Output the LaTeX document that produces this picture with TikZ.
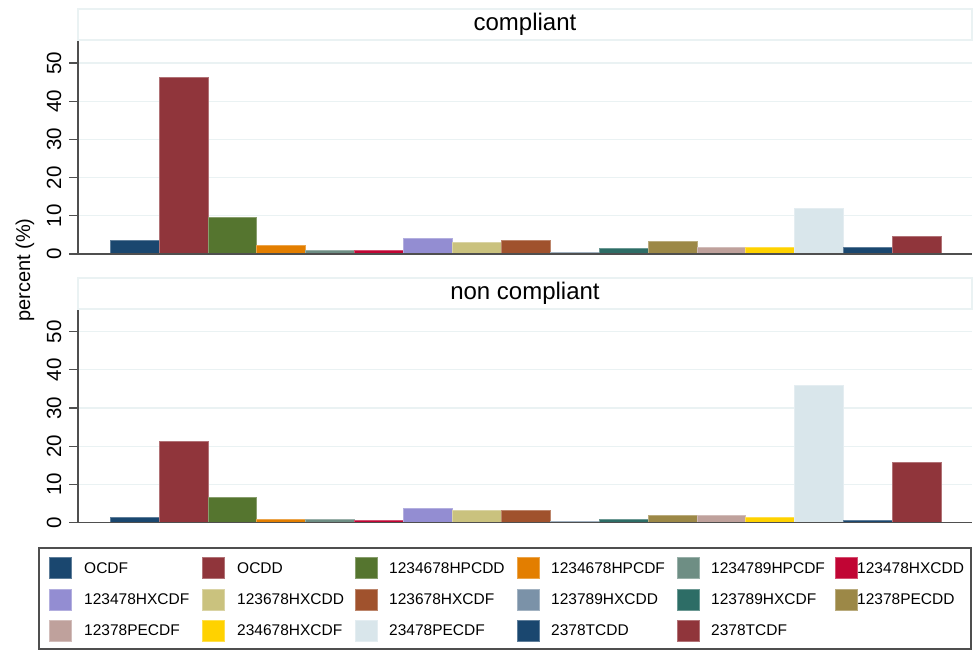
\documentclass[tikz,border=0pt]{standalone}
\usepackage{fontspec}
\setmainfont{Liberation Sans}
\usepackage{tikz}
\usetikzlibrary{positioning}
\definecolor{s2navy}{HTML}{1A476F}
\definecolor{s2maroon}{HTML}{90353B}
\definecolor{s2forest}{HTML}{55752F}
\definecolor{s2orange}{HTML}{E37E00}
\definecolor{s2teal}{HTML}{6E8E84}
\definecolor{s2cranberry}{HTML}{C10534}
\definecolor{s2lavender}{HTML}{938DD2}
\definecolor{s2khaki}{HTML}{CAC27E}
\definecolor{s2sienna}{HTML}{A0522D}
\definecolor{s2midblue}{HTML}{7B92A8}
\definecolor{s2emerald}{HTML}{2D6D66}
\definecolor{s2brown}{HTML}{9C8847}
\definecolor{s2rose}{HTML}{BFA19C}
\definecolor{s2gold}{HTML}{FFD200}
\definecolor{s2bluegray}{HTML}{D9E6EB}
\definecolor{gridcol}{HTML}{EAF2F3}
\definecolor{axiscol}{HTML}{4F4F4F}

\begin{document}
\begin{tikzpicture}[x=1pt,y=-1pt]

%% ── helpers ───────────────────────────────────────────────
\tikzset{
  bar/.style={fill=#1,draw=#1!70!white,line width=0.5pt},
  strip/.style={draw=gridcol,line width=1.2pt,fill=white},
  gline/.style={draw=gridcol,line width=1.2pt},
  axis/.style={draw=axiscol,line width=1.2pt},
  ticklab/.style={font=\fontsize{20.5}{22}\selectfont,rotate=90,inner sep=0pt},
  ttl/.style={font=\fontsize{24}{26}\selectfont,inner sep=0pt},
  swatch/.style={rectangle,fill=#1,draw=#1!70!white,line width=0.5pt,
                 minimum width=22pt,minimum height=21pt,inner sep=0pt,anchor=west},
  key/.style={font=\fontsize{15.5}{17}\selectfont,anchor=west,inner sep=0pt},
}

\useasboundingbox (0,0) rectangle (975,650);

%% ── Y AXIS LABEL ──────────────────────────────────────────
\node[font=\fontsize{20}{22}\selectfont,rotate=90] (ylab) at (25,270) {percent (\%)};

%% ── PANEL 1: compliant (zero at y=254) ───────────────────
\draw[strip] (78,9) rectangle (972,40);
\node[ttl] (tcomp) at (525,24.5) {compliant};
\foreach \v in {10,20,...,50}
  \draw[gline] (78,254-\v*3.82) -- (972,254-\v*3.82);

\foreach \c/\v [count=\i from 0] in {s2navy/3.5, s2maroon/46.2, s2forest/9.7,
    s2orange/2.4, s2teal/0.9, s2cranberry/1.1, s2lavender/4.1, s2khaki/3.0,
    s2sienna/3.6, s2midblue/0.5, s2emerald/1.6, s2brown/3.4, s2rose/1.7,
    s2gold/1.8, s2bluegray/12.0, s2navy/1.7, s2maroon/4.6}
  \draw[bar=\c] (110+\i*48.9,254) rectangle (110+\i*48.9+48.9,254-\v*3.82);

\draw[axis] (78,41) -- (78,254);
\draw[axis] (69,254) -- (972,254);
\foreach \v in {0,10,...,50}{
  \draw[axis] (69,254-\v*3.82) -- (78,254-\v*3.82);
  \node[ticklab] (tc\v) at (54,254-\v*3.82) {\v};
}

%% ── PANEL 2: non compliant (zero at y=522.6) ─────────────
\draw[strip] (78,278) rectangle (972,309);
\node[ttl] (tnon) at (525,293.5) {non compliant};
\foreach \v in {10,20,...,50}
  \draw[gline] (78,522.6-\v*3.82) -- (972,522.6-\v*3.82);

\foreach \c/\v [count=\i from 0] in {s2navy/1.4, s2maroon/21.3, s2forest/6.7,
    s2orange/1.0, s2teal/0.9, s2cranberry/0.7, s2lavender/3.8, s2khaki/3.2,
    s2sienna/3.3, s2midblue/0.4, s2emerald/1.0, s2brown/1.8, s2rose/2.0,
    s2gold/1.5, s2bluegray/35.9, s2navy/0.7, s2maroon/15.7}
  \draw[bar=\c] (110+\i*48.9,522.6) rectangle (110+\i*48.9+48.9,522.6-\v*3.82);

\draw[axis] (78,310) -- (78,522.6);
\draw[axis] (69,522.6) -- (972,522.6);
\foreach \v in {0,10,...,50}{
  \draw[axis] (69,522.6-\v*3.82) -- (78,522.6-\v*3.82);
  \node[ticklab] (tn\v) at (54,522.6-\v*3.82) {\v};
}

%% ── LEGEND ───────────────────────────────────────────────
\draw[axis] (39,548) rectangle (971,649);
\def\swx{{49,202,355,517,677,835}}
\def\txx{{84,237,389,551,711,857}}
\foreach \lab/\c [count=\i from 0] in {OCDF/s2navy, OCDD/s2maroon,
    1234678HPCDD/s2forest, 1234678HPCDF/s2orange, 1234789HPCDF/s2teal,
    123478HXCDD/s2cranberry, 123478HXCDF/s2lavender, 123678HXCDD/s2khaki,
    123678HXCDF/s2sienna, 123789HXCDD/s2midblue, 123789HXCDF/s2emerald,
    12378PECDD/s2brown, 12378PECDF/s2rose, 234678HXCDF/s2gold,
    23478PECDF/s2bluegray, 2378TCDD/s2navy, 2378TCDF/s2maroon}{
  \pgfmathtruncatemacro\cc{mod(\i,6)}
  \pgfmathtruncatemacro\rr{div(\i,6)}
  \pgfmathsetmacro\sx{\swx[\cc]}
  \pgfmathsetmacro\tx{\txx[\cc]}
  \node[swatch=\c] (sw\i) at (\sx,568+\rr*31.3) {};
  \node[key] (key\i) at (\tx,568+\rr*31.3) {\lab};
}

\end{tikzpicture}
\end{document}
